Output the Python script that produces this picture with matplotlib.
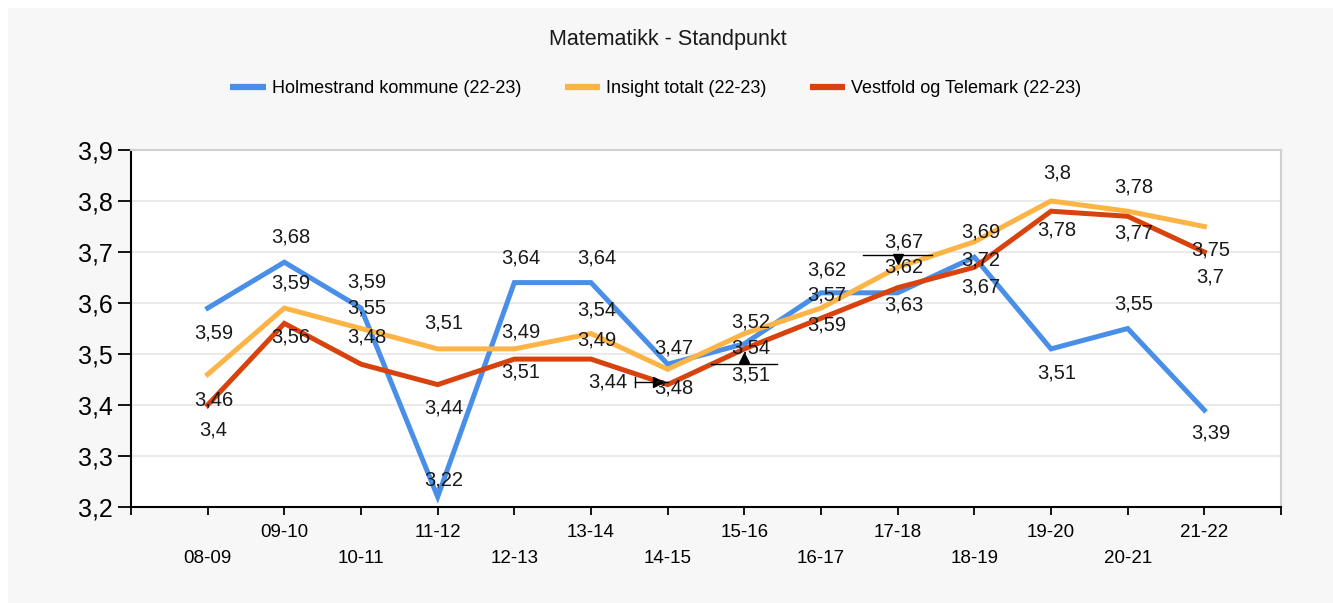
import matplotlib.pyplot as plt
from matplotlib.lines import Line2D
from matplotlib.patches import Rectangle

# school years on the x axis
years = ["08-09", "09-10", "10-11", "11-12", "12-13", "13-14", "14-15",
         "15-16", "16-17", "17-18", "18-19", "19-20", "20-21", "21-22"]

holmestrand = [3.59, 3.68, 3.59, 3.22, 3.64, 3.64, 3.48, 3.52, 3.62, 3.62, 3.69, 3.51, 3.55, 3.39]
insight = [3.46, 3.59, 3.55, 3.51, 3.51, 3.54, 3.47, 3.54, 3.59, 3.67, 3.72, 3.8, 3.78, 3.75]
vestfold = [3.4, 3.56, 3.48, 3.44, 3.49, 3.49, 3.44, 3.51, 3.57, 3.63, 3.67, 3.78, 3.77, 3.7]

series_names = ["Holmestrand kommune (22-23)", "Insight totalt (22-23)", "Vestfold og Telemark (22-23)"]

# small black change markers (year index, level, direction)
mark_idx = [6, 7, 9]
mark_val = [3.445, 3.48, 3.695]
mark_dir = [">", "^", "v"]

# vertical pixel offsets of the value labels
holm_dy = [-25, 25, 26, 17, 25, 25, -24, 22, 23, 26, 25, -24, 25, -23]
ins_dy = [-26, 25, 21, 26, -23, 24, 21, -14, -17, 25, -18, 28, 24, -24]
vest_dy = [-25, -14, 27, -23, 27, 19, 3, -26, 23, -17, -20, -19, -17, -25]

colors = ["#4a8fe7", "#fdb446", "#d8420c"]

def fmt(v):
    return ("%g" % v).replace(".", ",")

fig = plt.figure(figsize=(13.33, 6.03), dpi=100)
fig.patch.set_facecolor("white")
fig.patches.append(Rectangle((8 / 1333, 0), 1, 1 - 8 / 603, transform=fig.transFigure,
                             facecolor="#f7f7f7", edgecolor="none", zorder=-10))

ax = fig.add_axes([131 / 1333, 1 - 507 / 603, 1150 / 1333, 357 / 603])
ax.set_facecolor("white")

xs = list(range(len(years)))
for vals, dys, col in [(holmestrand, holm_dy, colors[0]),
                       (insight, ins_dy, colors[1]),
                       (vestfold, vest_dy, colors[2])]:
    ax.plot(xs, vals, color=col, lw=3.6, solid_joinstyle="miter", zorder=3)
    for i, (v, dy) in enumerate(zip(vals, dys)):
        dx = 6
        if vals is vestfold and i == 6:
            dx = -60
        ax.annotate(fmt(v), (i, v), xytext=(dx, dy), textcoords="offset pixels",
                    ha="center", va="center", fontsize=14.5,
                    family="Liberation Sans", color="#1a1a1a", zorder=5)

for i, v, d in zip(mark_idx, mark_val, mark_dir):
    if d == ">":
        ax.plot([i - 0.42, i], [v, v], color="k", lw=1, zorder=4)
        ax.plot([i - 0.42, i - 0.42], [v - 0.01, v + 0.01], color="k", lw=1, zorder=4)
        ax.plot(i - 0.12, v, marker=">", color="k", ms=7, zorder=4)
    elif d == "^":
        ax.plot([i - 0.43, i + 0.43], [v, v], color="k", lw=1, zorder=4)
        ax.plot(i, v + 0.012, marker="^", color="k", ms=7, zorder=4)
    else:
        ax.plot([i - 0.45, i + 0.45], [v, v], color="k", lw=1, zorder=4)
        ax.plot(i, v - 0.008, marker="v", color="k", ms=7, zorder=4)

ax.set_xlim(-1, len(years))
ax.set_ylim(3.2, 3.9)

yt = [3.2, 3.3, 3.4, 3.5, 3.6, 3.7, 3.8, 3.9]
ax.set_yticks(yt)
ax.set_yticklabels([("%.1f" % t).replace(".", ",") for t in yt], fontsize=18,
                   family="Liberation Sans")
ax.grid(axis="y", color="#e6e6e6", lw=1.2)
ax.set_axisbelow(True)

xt = list(range(-1, len(years) + 1))
xl = [""]
for i, y in enumerate(years):
    xl.append(y if i % 2 == 1 else "\n" + y)
xl.append("")
ax.set_xticks(xt)
ax.set_xticklabels(xl, fontsize=13.5, family="Liberation Sans")
for t in ax.get_xticklabels():
    t.set_linespacing(1.75)

ax.tick_params(axis="y", length=9.4, width=1.3, pad=3.5, colors="black")
ax.tick_params(axis="x", length=6, width=1.3, pad=6)

for s in ["left", "bottom"]:
    ax.spines[s].set_color("black")
    ax.spines[s].set_linewidth(1.5)
for s in ["top", "right"]:
    ax.spines[s].set_color("#d0d0d0")
    ax.spines[s].set_linewidth(1.5)

fig.text(668 / 1333, 1 - 40 / 603, "Matematikk - Standpunkt", ha="center", va="center",
         fontsize=15.5, family="Liberation Sans", color="#1a1a1a")

handles = [Line2D([], [], color=c, lw=4.5, solid_capstyle="butt") for c in colors]
fig.legend(handles, series_names, loc="center", bbox_to_anchor=(656 / 1333, 1 - 89 / 603),
           ncol=3, frameon=False, handlelength=1.95, handletextpad=0.35, columnspacing=2.4,
           prop={"family": "Liberation Sans", "size": 13})

fig.savefig("out.png", dpi=100, facecolor=fig.get_facecolor())
